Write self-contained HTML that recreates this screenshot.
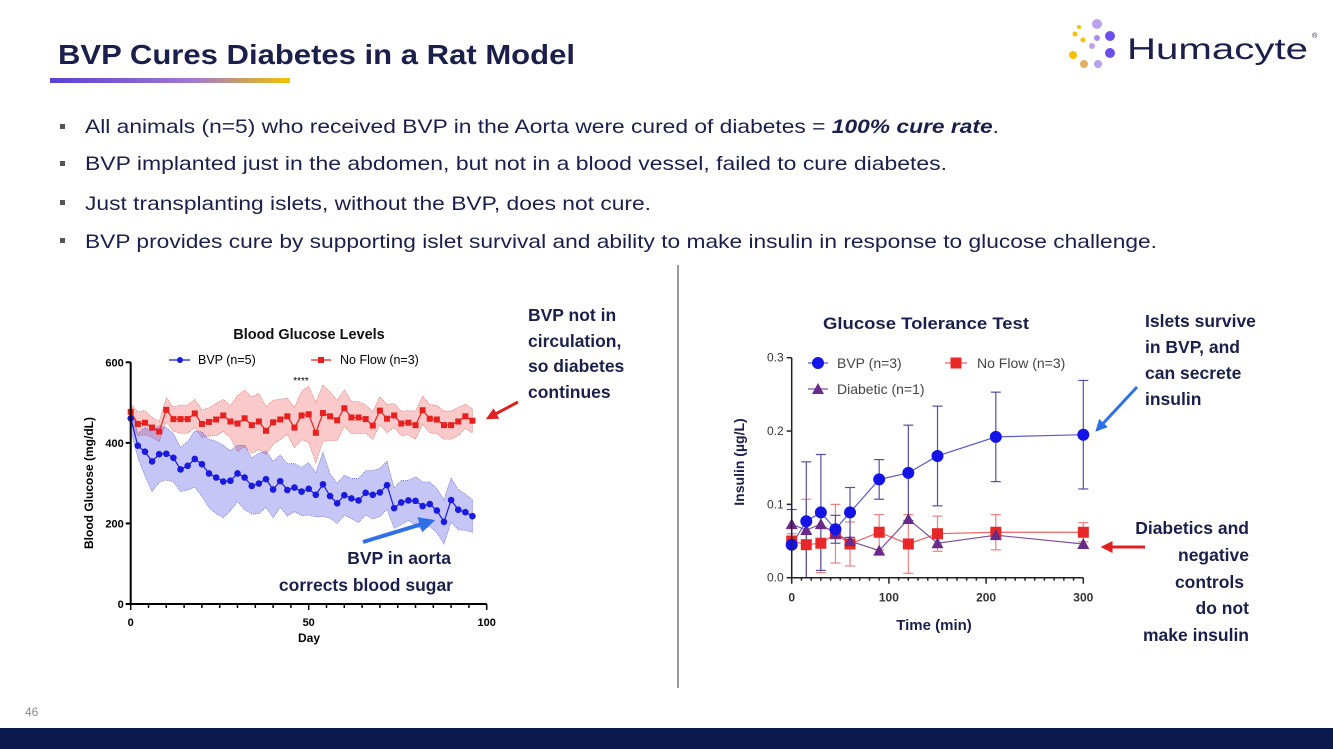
<!DOCTYPE html>
<html><head><meta charset="utf-8"><style>
html,body{margin:0;padding:0;background:#fff;}
svg{display:block;font-family:"Liberation Sans",sans-serif;}
</style></head><body>
<svg id="s" width="1333" height="749" viewBox="0 0 1333 749">
<defs>
<linearGradient id="ug" x1="0" x2="1"><stop offset="0" stop-color="#5b3fd6"/><stop offset="0.6" stop-color="#a07ad0"/><stop offset="1" stop-color="#f2c200"/></linearGradient>
<marker id="ab" viewBox="0 0 10 10" refX="8" refY="5" markerWidth="4" markerHeight="4" orient="auto"><path d="M0,0L10,5L0,10z" fill="#2f6fe8"/></marker>
<marker id="ar" viewBox="0 0 10 10" refX="8" refY="5" markerWidth="4" markerHeight="4" orient="auto"><path d="M0,0L10,5L0,10z" fill="#e02020"/></marker>
</defs>
<text x="58" y="64" font-size="28" font-weight="bold" fill="#1b1f4b" textLength="517" lengthAdjust="spacingAndGlyphs">BVP Cures Diabetes in a Rat Model</text>
<rect x="50" y="78" width="240" height="5" fill="url(#ug)"/>
<g>
<circle cx="1097" cy="24" r="5" fill="#b9a3f0"/><circle cx="1110" cy="36" r="5" fill="#6a4ef0"/><circle cx="1110" cy="53" r="5" fill="#6a4ef0"/>
<circle cx="1097" cy="38" r="3" fill="#a58fe8"/><circle cx="1092" cy="46" r="3" fill="#c0a3e0"/><circle cx="1083" cy="40" r="2.5" fill="#f2c200"/>
<circle cx="1079" cy="27" r="2" fill="#f2c200"/><circle cx="1075" cy="34" r="2.5" fill="#f2c200"/><circle cx="1073" cy="55" r="4" fill="#f2c200"/>
<circle cx="1084" cy="64" r="4" fill="#e2b060"/><circle cx="1098" cy="64" r="4" fill="#b9a3f0"/>
<text x="1127" y="59" font-size="30" fill="#1b1f4b" textLength="181" lengthAdjust="spacingAndGlyphs">Humacyte</text>
<text x="1312" y="38" font-size="7" fill="#1b1f4b">®</text>
</g>
<g font-size="19.5" fill="#1b1f4b">
<rect x="60" y="124" width="5" height="5" fill="#555"/><rect x="60" y="161" width="5" height="5" fill="#555"/><rect x="60" y="200" width="5" height="5" fill="#555"/><rect x="60" y="238" width="5" height="5" fill="#555"/>
<text x="85" y="133" textLength="914" lengthAdjust="spacingAndGlyphs">All animals (n=5) who received BVP in the Aorta were cured of diabetes = <tspan font-weight="bold" font-style="italic">100% cure rate</tspan>.</text>
<text x="85" y="170" textLength="862" lengthAdjust="spacingAndGlyphs">BVP implanted just in the abdomen, but not in a blood vessel, failed to cure diabetes.</text>
<text x="85" y="210" textLength="566" lengthAdjust="spacingAndGlyphs">Just transplanting islets, without the BVP, does not cure.</text>
<text x="85" y="248" textLength="1072" lengthAdjust="spacingAndGlyphs">BVP provides cure by supporting islet survival and ability to make insulin in response to glucose challenge.</text>
</g>
<line x1="678" y1="265" x2="678" y2="688" stroke="#333" stroke-width="1"/>
<g id="c1"></g>
<g id="c2"></g>
<g font-size="17.5" font-weight="bold" fill="#1b1f4b">
<text x="528" y="321">BVP not in</text><text x="528" y="347">circulation,</text><text x="528" y="372">so diabetes</text><text x="528" y="398">continues</text>
<text x="1145" y="327">Islets survive</text><text x="1145" y="353">in BVP, and</text><text x="1145" y="379">can secrete</text><text x="1145" y="405">insulin</text>
<g text-anchor="end"><text x="1249" y="534">Diabetics and</text><text x="1249" y="561">negative</text><text x="1244" y="588">controls</text><text x="1249" y="614">do not</text><text x="1249" y="641">make insulin</text></g>
<text x="451" y="564" text-anchor="end">BVP in aorta</text><text x="453" y="591" text-anchor="end">corrects blood sugar</text>
</g>
<line x1="363" y1="542" x2="432" y2="521" stroke="#2f6fe8" stroke-width="4" marker-end="url(#ab)"/>
<line x1="518" y1="402" x2="488" y2="418" stroke="#e02020" stroke-width="3" marker-end="url(#ar)"/>
<line x1="1137" y1="387" x2="1097" y2="430" stroke="#2f6fe8" stroke-width="3" marker-end="url(#ab)"/>
<line x1="1145" y1="547" x2="1103" y2="547" stroke="#e02020" stroke-width="3" marker-end="url(#ar)"/>
<text x="25" y="716" font-size="12" fill="#888">46</text>
<rect x="0" y="728" width="1333" height="21" fill="#0a1a4f"/>
</svg>
<script>
const days=[0,2,4,6,8,10,12,14,16,18,20,22,24,26,28,30,32,34,36,38,40,42,44,46,48,50,52,54,56,58,60,62,64,66,68,70,72,74,76,78,80,82,84,86,88,90,92,94,96];
const bvpGlucose=[461,393,378,354,372,373,363,334,343,360,347,324,314,304,306,324,314,293,299,310,284,305,283,289,279,286,271,297,268,250,270,262,257,276,271,277,295,238,252,257,256,243,248,232,204,258,234,228,218];
const bvpErr=[30,30,60,75,70,65,60,55,60,70,80,85,90,90,75,70,80,70,75,70,70,65,65,60,60,65,55,80,55,50,50,50,55,55,60,60,60,50,55,50,60,60,55,55,55,55,50,45,40];
const noFlowGlucose=[477,447,450,438,428,482,459,459,459,473,447,452,458,468,453,448,461,444,453,430,451,458,466,438,468,471,425,474,466,456,486,463,463,459,443,480,460,468,448,450,444,481,460,458,444,444,453,466,455];
const noFlowErr=[20,30,30,25,25,30,30,35,35,35,35,35,40,40,40,70,70,70,70,60,55,50,45,50,60,70,75,70,60,50,45,40,40,35,35,35,35,30,30,30,35,35,35,35,35,35,35,30,30];
const gluYTicks=[0,200,400,600];
const gluXTicks=[0,50,100];
const times=[0,15,30,45,60,90,120,150,210,300];
const bvpInsulin=[0.045,0.077,0.089,0.066,0.089,0.134,0.143,0.166,0.192,0.195];
const bvpInsErr=[0.048,0.081,0.079,0.019,0.034,0.027,0.065,0.068,0.061,0.074];
const noFlowInsulin=[0.050,0.045,0.047,0.060,0.046,0.062,0.046,0.060,0.062,0.062];
const noFlowInsErr=[0.010,0.062,0.040,0.040,0.030,0.024,0.040,0.024,0.024,0.013];
const diabeticInsulin=[0.073,0.065,0.073,0.060,0.050,0.037,0.080,0.047,0.058,0.046];
const insYTicks=[0,0.1,0.2,0.3];
const insXTicks=[0,100,200,300];
const NS='http://www.w3.org/2000/svg';
function mk(p,t,a,txt){const e=document.createElementNS(NS,t);for(const k in a)e.setAttribute(k,a[k]);if(txt!==undefined)e.textContent=txt;p.appendChild(e);return e;}
(function(){
const g=document.getElementById('c1');
const X=d=>130.7+d*(486.7-130.7)/100, Y=v=>604-v*(604-362.3)/600;
mk(g,'text',{x:309,y:339,'font-size':14.5,'font-weight':'bold','text-anchor':'middle',fill:'#111'},'Blood Glucose Levels');
const bandPts=(v,e)=>days.map((d,i)=>X(d)+','+Y(v[i]+e[i])).join(' ')+' '+days.slice().reverse().map((d,j)=>{const i=days.length-1-j;return X(d)+','+Y(v[i]-e[i]);}).join(' ');
let b=mk(g,'polygon',{points:bandPts(noFlowGlucose,noFlowErr),fill:'rgba(240,100,100,0.35)',stroke:'#e05050','stroke-width':0.6,'stroke-dasharray':'1,1'});

b=mk(g,'polygon',{points:bandPts(bvpGlucose,bvpErr),fill:'rgba(90,90,230,0.35)',stroke:'#5050d0','stroke-width':0.6,'stroke-dasharray':'1,1'});

let l=mk(g,'polyline',{points:days.map((d,i)=>X(d)+','+Y(noFlowGlucose[i])).join(' '),fill:'none',stroke:'#e82020','stroke-width':1.2});

days.forEach((d,i)=>{const r=mk(g,'rect',{x:X(d)-3,y:Y(noFlowGlucose[i])-3,width:6,height:6,fill:'#e82020'});});
l=mk(g,'polyline',{points:days.map((d,i)=>X(d)+','+Y(bvpGlucose[i])).join(' '),fill:'none',stroke:'#1a1ae0','stroke-width':1.2});

days.forEach((d,i)=>{const c=mk(g,'circle',{cx:X(d),cy:Y(bvpGlucose[i]),r:3.3,fill:'#1a1ae0'});});
mk(g,'line',{x1:X(0),y1:Y(0),x2:X(0),y2:Y(600),stroke:'#000','stroke-width':2});
mk(g,'line',{x1:X(0),y1:Y(0),x2:X(100),y2:Y(0),stroke:'#000','stroke-width':2});
gluYTicks.forEach(t=>{mk(g,'line',{x1:X(0)-5,x2:X(0),y1:Y(t),y2:Y(t),stroke:'#000','stroke-width':2});
 const e=mk(g,'text',{x:X(0)-7,y:Y(t)+4,'font-size':11,'font-weight':'bold','text-anchor':'end'},t);});
for(let d=0;d<=100;d+=5){mk(g,'line',{x1:X(d),x2:X(d),y1:Y(0),y2:Y(0)+(d%50?4:6),stroke:'#000','stroke-width':1.5});}
gluXTicks.forEach(t=>{const e=mk(g,'text',{x:X(t),y:Y(0)+22,'font-size':11,'font-weight':'bold','text-anchor':'middle'},t);});
mk(g,'text',{x:309,y:642,'font-size':12,'font-weight':'bold','text-anchor':'middle'},'Day');
mk(g,'text',{x:93,y:483,'font-size':12,'font-weight':'bold','text-anchor':'middle',transform:'rotate(-90 93 483)'},'Blood Glucose (mg/dL)');
mk(g,'text',{x:301,y:384,'font-size':10,'text-anchor':'middle'},'****');
mk(g,'line',{x1:169,x2:190,y1:360,y2:360,stroke:'#1a1ae0','stroke-width':1.2});mk(g,'circle',{cx:180,cy:360,r:3,fill:'#1a1ae0'});
mk(g,'text',{x:198,y:364,'font-size':12.5},'BVP (n=5)');
mk(g,'line',{x1:311,x2:331,y1:360,y2:360,stroke:'#e82020','stroke-width':1.2});mk(g,'rect',{x:318,y:357,width:6,height:6,fill:'#e82020'});
mk(g,'text',{x:340,y:364,'font-size':12.5},'No Flow (n=3)');
})();
(function(){
const g=document.getElementById('c2');
const X=t=>791.7+t*(1083.3-791.7)/300, Y=v=>577.7-v*(577.7-357.7)/0.3;
mk(g,'text',{x:926,y:329,'font-size':17,'font-weight':'bold','text-anchor':'middle',fill:'#1b1f4b',textLength:206,lengthAdjust:'spacingAndGlyphs'},'Glucose Tolerance Test');
const eb=(v,e,col,name)=>times.forEach((t,i)=>{const gg=mk(g,'g',{stroke:col,'stroke-width':1.2});
 const lo=Math.max(0,v[i]-e[i]);mk(gg,'line',{x1:X(t),x2:X(t),y1:Y(v[i]+e[i]),y2:Y(lo)});mk(gg,'line',{x1:X(t)-5,x2:X(t)+5,y1:Y(v[i]+e[i]),y2:Y(v[i]+e[i])});mk(gg,'line',{x1:X(t)-5,x2:X(t)+5,y1:Y(lo),y2:Y(lo)});});
eb(noFlowInsulin,noFlowInsErr,'#f08080','noflow-errorbar');
eb(bvpInsulin,bvpInsErr,'#5050a8','bvp-errorbar');
let l=mk(g,'polyline',{points:times.map((t,i)=>X(t)+','+Y(noFlowInsulin[i])).join(' '),fill:'none',stroke:'#f06060','stroke-width':1.2});
l=mk(g,'polyline',{points:times.map((t,i)=>X(t)+','+Y(diabeticInsulin[i])).join(' '),fill:'none',stroke:'#8050a0','stroke-width':1.2});
l=mk(g,'polyline',{points:times.map((t,i)=>X(t)+','+Y(bvpInsulin[i])).join(' '),fill:'none',stroke:'#5a5ad0','stroke-width':1.2});
times.forEach((t,i)=>{const r=mk(g,'rect',{x:X(t)-5.5,y:Y(noFlowInsulin[i])-5.5,width:11,height:11,fill:'#e82828'});
 const p=mk(g,'polygon',{points:`${X(t)},${Y(diabeticInsulin[i])-6} ${X(t)-6},${Y(diabeticInsulin[i])+5} ${X(t)+6},${Y(diabeticInsulin[i])+5}`,fill:'#6a2a8a'});
 const c=mk(g,'circle',{cx:X(t),cy:Y(bvpInsulin[i]),r:6,fill:'#1414e6'});});
mk(g,'line',{x1:X(0),y1:Y(0),x2:X(0),y2:Y(0.3),stroke:'#222','stroke-width':1.5});
mk(g,'line',{x1:X(0),y1:Y(0),x2:X(300),y2:Y(0),stroke:'#222','stroke-width':1.5});
insYTicks.forEach(t=>{mk(g,'line',{x1:X(0)-5,x2:X(0),y1:Y(t),y2:Y(t),stroke:'#222','stroke-width':1.5});
 const e=mk(g,'text',{x:X(0)-8,y:Y(t)+4,'font-size':12,'text-anchor':'end',fill:'#333'},t.toFixed(1));});
for(let t=0;t<=300;t+=10){mk(g,'line',{x1:X(t),x2:X(t),y1:Y(0),y2:Y(0)+(t%100?3:6),stroke:'#222','stroke-width':1.5});}
insXTicks.forEach(t=>{const e=mk(g,'text',{x:X(t),y:Y(0)+24,'font-size':12,'font-weight':'bold','text-anchor':'middle',fill:'#333'},t);});
mk(g,'text',{x:934,y:630,'font-size':15,'font-weight':'bold','text-anchor':'middle',fill:'#1b1f4b'},'Time (min)');
mk(g,'text',{x:744,y:462,'font-size':14,'font-weight':'bold','text-anchor':'middle',fill:'#1b1f4b',transform:'rotate(-90 744 462)'},'Insulin (µg/L)');
mk(g,'line',{x1:808,x2:828,y1:363,y2:363,stroke:'#5a5ad0','stroke-width':1.2});mk(g,'circle',{cx:818,cy:363,r:6,fill:'#1414e6'});
mk(g,'text',{x:837,y:368,'font-size':14,fill:'#444'},'BVP (n=3)');
mk(g,'line',{x1:945,x2:967,y1:363,y2:363,stroke:'#f06060','stroke-width':1.2});mk(g,'rect',{x:950.5,y:357.5,width:11,height:11,fill:'#e82828'});
mk(g,'text',{x:977,y:368,'font-size':14,fill:'#444'},'No Flow (n=3)');
mk(g,'line',{x1:808,x2:828,y1:389,y2:389,stroke:'#8050a0','stroke-width':1.2});mk(g,'polygon',{points:'818,383 812,394 824,394',fill:'#6a2a8a'});
mk(g,'text',{x:837,y:394,'font-size':14,fill:'#444'},'Diabetic (n=1)');
})();
</script>
</body></html>
